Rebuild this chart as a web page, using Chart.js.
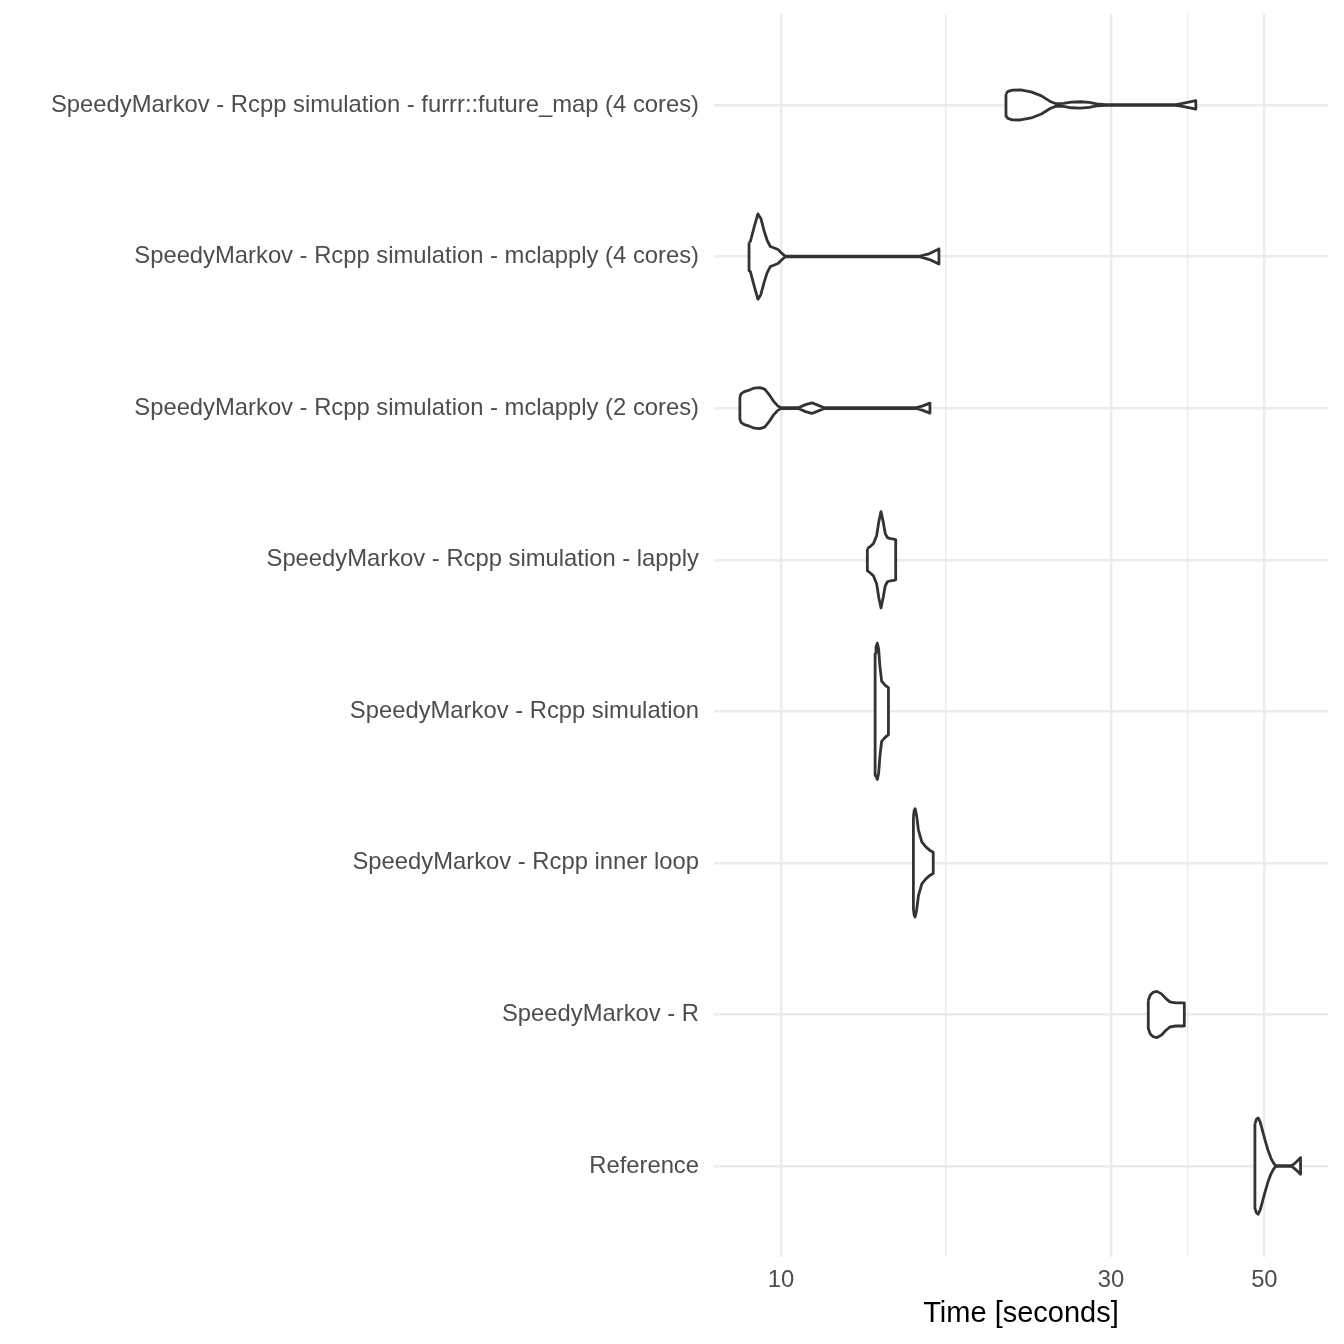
<!DOCTYPE html>
<html>
<head>
<meta charset="utf-8">
<script src="https://cdn.jsdelivr.net/npm/chart.js@4"></script>
<style>
  html, body { margin: 0; padding: 0; background: #fff; }
  #wrap { width: 1344px; height: 1344px; }
</style>
</head>
<body>
<div id="wrap"><canvas id="violins" width="1344" height="1344"></canvas></div>
<script>
// categories, top to bottom
const categories = [
  'SpeedyMarkov - Rcpp simulation - furrr::future_map (4 cores)',
  'SpeedyMarkov - Rcpp simulation - mclapply (4 cores)',
  'SpeedyMarkov - Rcpp simulation - mclapply (2 cores)',
  'SpeedyMarkov - Rcpp simulation - lapply',
  'SpeedyMarkov - Rcpp simulation',
  'SpeedyMarkov - Rcpp inner loop',
  'SpeedyMarkov - R',
  'Reference'
];

// density profiles: time (s) and relative density (max 68)
const furrrTime = [21.15, 21.3, 21.6, 22.2, 23.0, 23.8, 24.5, 25.0, 25.6, 26.3, 27.1, 27.9, 28.6, 29.5, 37.3, 38.4, 39.8];
const furrrDens = [11, 13.5, 14.8, 15, 13, 9, 3.5, 1.2, 1.5, 2.8, 3.2, 2.5, 1.0, 0.4, 0.4, 2, 4.2];

const mc4Time = [8.99, 9.03, 9.15, 9.26, 9.35, 9.45, 9.55, 9.65, 9.78, 9.9, 10.0, 10.13, 15.9, 16.4, 16.92];
const mc4Dens = [14, 15, 30, 42.5, 38, 26, 16, 10, 8.5, 7, 4, 0.4, 0.4, 3, 7.5];

const mc2Time = [8.72, 8.76, 8.85, 9.0, 9.15, 9.32, 9.47, 9.6, 9.75, 9.9, 10.0, 10.6, 10.85, 11.08, 11.3, 11.55, 15.7, 16.0, 16.42];
const mc2Dens = [11, 14.5, 16.5, 18, 20, 20.5, 19, 14, 7, 2, 0.4, 0.4, 3.5, 5.3, 3, 0.4, 0.4, 2, 5];

const lapplyTime = [13.33, 13.45, 13.6, 13.75, 13.85, 13.95, 14.05, 14.15, 14.25, 14.4, 14.55, 14.65];
const lapplyDens = [11, 13, 16, 24, 38, 48, 38, 26, 22, 21, 20.5, 20];

const rcppTime = [13.68, 13.72, 13.78, 13.84, 13.9, 13.98, 14.1, 14.2, 14.3];
const rcppDens = [58, 64, 68, 62, 45, 30, 27, 25, 23.5];

const innerTime = [15.54, 15.58, 15.63, 15.7, 15.8, 15.98, 16.2, 16.45, 16.6];
const innerDens = [46, 52, 54, 48, 33, 21, 16, 12, 10.5];

const rTime = [33.97, 34.2, 34.5, 34.97, 35.5, 36.0, 36.5, 37.2, 38.3];
const rDens = [14, 19.5, 22, 23, 20.5, 16, 12.5, 11.5, 11.5];

const refTime = [48.45, 48.7, 48.98, 49.3, 49.7, 50.1, 50.6, 51.1, 51.5, 51.9, 54.8, 55.5, 56.4];
const refDens = [42, 46.5, 48, 44, 35, 26, 16, 8, 3.5, 0.4, 0.4, 3.5, 8.3];

const violinTimes = [furrrTime, mc4Time, mc2Time, lapplyTime, rcppTime, innerTime, rTime, refTime];
const violinDens = [furrrDens, mc4Dens, mc2Dens, lapplyDens, rcppDens, innerDens, rDens, refDens];

const majorTicks = [10, 30, 50];
const minorTicks = [17.32, 38.73];

// widest violin spans 0.9 of a category slot
const halfWidth = d => d / 68 * 0.45;

function outline(times, dens, pos) {
  const upper = times.map((t, i) => ({ x: t, y: pos + halfWidth(dens[i]) }));
  const lower = times.map((t, i) => ({ x: t, y: pos - halfWidth(dens[i]) })).reverse();
  return upper.concat(lower, [upper[0]]);
}

const datasets = categories.map((c, i) => ({
  label: c,
  data: outline(violinTimes[i], violinDens[i], categories.length - i),
  showLine: true,
  fill: 'shape',
  backgroundColor: '#ffffff',
  borderColor: '#333333',
  borderWidth: 2.8,
  borderJoinStyle: 'round',
  tension: 0,
  pointRadius: 0
}));

const ctx = document.getElementById('violins').getContext('2d');
new Chart(ctx, {
  type: 'scatter',
  data: { datasets: datasets },
  options: {
    responsive: false,
    animation: false,
    layout: { padding: { top: 14, right: 16, left: 0, bottom: 0 } },
    plugins: { legend: { display: false }, tooltip: { enabled: false } },
    scales: {
      x: {
        type: 'logarithmic',
        min: 8.0,
        max: 61.8,
        border: { display: false },
        afterBuildTicks: s => {
          s.ticks = majorTicks.concat(minorTicks).sort((a, b) => a - b).map(v => ({ value: v }));
        },
        afterFit: s => { s.height = 87; s.paddingLeft = 0; s.paddingRight = 0; },
        grid: {
          drawTicks: false,
          color: '#ebebeb',
          lineWidth: c => (c.tick && majorTicks.includes(c.tick.value)) ? 2.4 : 1.3
        },
        ticks: {
          padding: 9,
          maxRotation: 0,
          autoSkip: false,
          color: '#4d4d4d',
          font: { family: 'Liberation Sans', size: 23.8 },
          callback: v => majorTicks.includes(v) ? String(v) : ''
        },
        title: {
          display: true,
          text: 'Time [seconds]',
          color: '#000000',
          font: { family: 'Liberation Sans', size: 29 },
          padding: { top: 0, bottom: 13 }
        }
      },
      y: {
        type: 'linear',
        min: 0.4,
        max: 8.6,
        border: { display: false },
        afterBuildTicks: s => {
          s.ticks = categories.map((c, i) => ({ value: categories.length - i }));
        },
        afterFit: s => { s.width = 714; s.paddingTop = 0; s.paddingBottom = 0; },
        grid: { drawTicks: false, color: '#ebebeb', lineWidth: 2.4 },
        ticks: {
          padding: 15,
          autoSkip: false,
          color: '#4d4d4d',
          font: { family: 'Liberation Sans', size: 23.8 },
          callback: v => categories[categories.length - v]
        }
      }
    }
  }
});
</script>
</body>
</html>
